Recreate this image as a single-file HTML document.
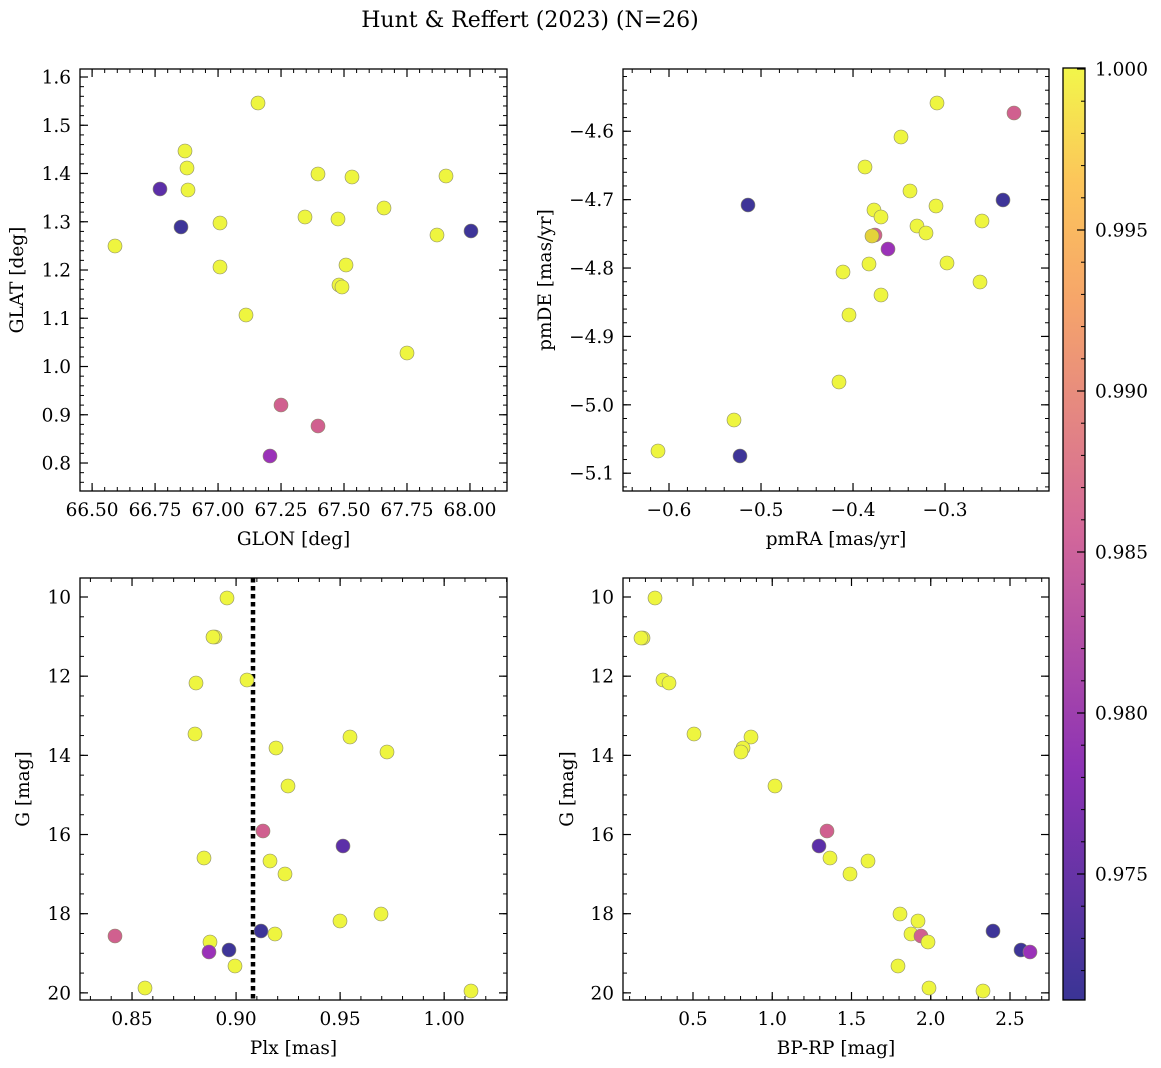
<!DOCTYPE html>
<html><head><meta charset="utf-8"><style>
html,body{margin:0;padding:0;background:#fff;}
svg{display:block;font-family:"DejaVu Serif","Liberation Serif",serif;}
</style></head><body>
<svg id="s" width="1161" height="1068" xmlns="http://www.w3.org/2000/svg">
<defs><linearGradient id="cb" x1="0" y1="1" x2="0" y2="0">
<stop offset="0" stop-color="#3a3495"/>
<stop offset="0.25" stop-color="#8d33b4"/>
<stop offset="0.5" stop-color="#d2679a"/>
<stop offset="0.75" stop-color="#f6a56a"/>
<stop offset="0.88" stop-color="#fcc65a"/>
<stop offset="1" stop-color="#f2f64a"/>
</linearGradient></defs>
<text x="530" y="27" font-size="22" text-anchor="middle">Hunt &amp; Reffert (2023) (N=26)</text>
</svg>
<script>
const S=document.getElementById('s');const NS='http://www.w3.org/2000/svg';
function el(t,a,txt){const e=document.createElementNS(NS,t);for(const k in a)e.setAttribute(k,a[k]);if(txt!==undefined)e.textContent=txt;S.appendChild(e);return e;}
const C={Y:'#eef53f',P:'#d0608f',B:'#3e3598',U:'#5c2fa8',M:'#9a32b8',O:'#e4d23a'};
const FS=18.5, LS=18.5;
function fmt(v,d){let s=v.toFixed(d);if(v<-1e-9)s='\u2212'+s.slice(1);return s;}
function panel(p){
 const {x0,x1,y0,y1,xl,xh,yl,yh}=p;
 const X=v=>x0+(v-xl)/(xh-xl)*(x1-x0), Y=v=>y1-(v-yl)/(yh-yl)*(y1-y0);
 function ticks(lo,hi,step,f){const n0=Math.ceil(lo/step-1e-6),n1=Math.floor(hi/step+1e-6);for(let i=n0;i<=n1;i++)f(i*step);}
 ticks(Math.min(xl,xh),Math.max(xl,xh),p.xmin,v=>{const x=X(v);el('line',{x1:x,x2:x,y1:y1,y2:y1-4,stroke:'#000','stroke-width':1});el('line',{x1:x,x2:x,y1:y0,y2:y0+4,stroke:'#000','stroke-width':1});});
 ticks(Math.min(yl,yh),Math.max(yl,yh),p.ymin,v=>{const y=Y(v);el('line',{x1:x0,x2:x0+4,y1:y,y2:y,stroke:'#000','stroke-width':1});el('line',{x1:x1,x2:x1-4,y1:y,y2:y,stroke:'#000','stroke-width':1});});
 p.xt.forEach(v=>{const x=X(v);el('line',{x1:x,x2:x,y1:y1,y2:y1-8,stroke:'#000','stroke-width':1.2});el('line',{x1:x,x2:x,y1:y0,y2:y0+8,stroke:'#000','stroke-width':1.2});el('text',{x:x,y:y1+25,'font-size':FS,'text-anchor':'middle'},fmt(v,p.xd));});
 p.yt.forEach(v=>{const y=Y(v);el('line',{x1:x0,x2:x0+8,y1:y,y2:y,stroke:'#000','stroke-width':1.2});el('line',{x1:x1,x2:x1-8,y1:y,y2:y,stroke:'#000','stroke-width':1.2});el('text',{x:x0-9,y:y+6.5,'font-size':FS,'text-anchor':'end'},fmt(v,p.yd));});
 if(p.extra)p.extra();
 p.pts.forEach(q=>el('circle',{cx:q[0],cy:q[1],r:7,fill:C[q[2]],stroke:'#8a8a6a','stroke-width':0.6}));
 el('rect',{x:x0,y:y0,width:x1-x0,height:y1-y0,fill:'none',stroke:'#000','stroke-width':1.3});
 el('text',{x:(x0+x1)/2,y:y1+54,'font-size':LS,'text-anchor':'middle'},p.xlab);
 const lx=p.lx;el('text',{x:lx,y:(y0+y1)/2,'font-size':LS,'text-anchor':'middle',transform:`rotate(-90 ${lx} ${(y0+y1)/2})`},p.ylab);
}
const r=(a,b,s)=>{const o=[];for(let v=a;v<=b+1e-9;v+=s)o.push(+v.toFixed(4));return o;};
panel({x0:80,x1:507,y0:69,y1:491,xl:66.452,xh:68.147,yl:0.742,yh:1.6166,xt:r(66.5,68,0.25),xd:2,yt:r(0.8,1.6,0.1),yd:1,xmin:0.05,ymin:0.02,xlab:'GLON [deg]',ylab:'GLAT [deg]',lx:23,
pts:[[258,103,'Y'],[185,151,'Y'],[187,168,'Y'],[188,190,'Y'],[160,189,'U'],[318,174,'Y'],[352,177,'Y'],[446,176,'Y'],[181,227,'B'],[220,223,'Y'],[305,217,'Y'],[338,219,'Y'],[384,208,'Y'],[115,246,'Y'],[471,231,'B'],[220,267,'Y'],[346,265,'Y'],[339,285,'Y'],[342,287,'Y'],[437,235,'Y'],[246,315,'Y'],[407,353,'Y'],[281,405,'P'],[318,426,'P'],[270,456,'M']]});
panel({x0:623,x1:1049,y0:69,y1:491,xl:-0.65,xh:-0.187,yl:-5.126,yh:-4.509,xt:r(-0.6,-0.3,0.1),xd:1,yt:r(-5.1,-4.6,0.1),yd:1,xmin:0.02,ymin:0.02,xlab:'pmRA [mas/yr]',ylab:'pmDE [mas/yr]',lx:551,
pts:[[937,103,'Y'],[1014,113,'P'],[901,137,'Y'],[865,167,'Y'],[910,191,'Y'],[748,205,'B'],[1003,200,'B'],[936,206,'Y'],[874,210,'Y'],[881,217,'Y'],[982,221,'Y'],[917,226,'Y'],[926,233,'Y'],[875,235,'P'],[872,236,'O'],[888,249,'M'],[869,264,'Y'],[947,263,'Y'],[843,272,'Y'],[980,282,'Y'],[881,295,'Y'],[849,315,'Y'],[839,382,'Y'],[734,420,'Y'],[658,451,'Y'],[740,456,'B']]});
panel({x0:80,x1:507,y0:578,y1:1000,xl:0.825,xh:1.0302,yl:20.18,yh:9.52,xt:r(0.85,1.0,0.05),xd:2,yt:r(10,20,2),yd:0,xmin:0.01,ymin:0.5,xlab:'Plx [mas]',ylab:'G [mag]',lx:29,
extra:()=>el('line',{x1:253,x2:253,y1:578,y2:1000,stroke:'#000','stroke-width':4.5,'stroke-dasharray':'4.5 3.5'}),
pts:[[227,598,'Y'],[215,637,'Y'],[213,637,'Y'],[196,683,'Y'],[247,680,'Y'],[195,734,'Y'],[276,748,'Y'],[350,737,'Y'],[387,752,'Y'],[288,786,'Y'],[263,831,'P'],[343,846,'U'],[204,858,'Y'],[270,861,'Y'],[285,874,'Y'],[381,914,'Y'],[340,921,'Y'],[115,936,'P'],[210,942,'Y'],[229,950,'B'],[209,952,'M'],[261,931,'B'],[275,934,'Y'],[235,966,'Y'],[145,988,'Y'],[471,991,'Y']]});
panel({x0:623,x1:1049,y0:578,y1:1000,xl:0.0584,xh:2.746,yl:20.18,yh:9.52,xt:r(0.5,2.5,0.5),xd:1,yt:r(10,20,2),yd:0,xmin:0.1,ymin:0.5,xlab:'BP-RP [mag]',ylab:'G [mag]',lx:573,
pts:[[655,598,'Y'],[643,638,'Y'],[641,638,'Y'],[663,680,'Y'],[669,683,'Y'],[694,734,'Y'],[751,737,'Y'],[743,748,'Y'],[741,752,'Y'],[775,786,'Y'],[827,831,'P'],[819,846,'U'],[830,858,'Y'],[868,861,'Y'],[850,874,'Y'],[900,914,'Y'],[918,921,'Y'],[993,931,'B'],[911,934,'Y'],[921,936,'P'],[928,942,'Y'],[1021,950,'B'],[1030,952,'M'],[898,966,'Y'],[929,988,'Y'],[983,991,'Y']]});
el('rect',{x:1063,y:68,width:22,height:932,fill:'url(#cb)',stroke:'#000','stroke-width':1.3});
const CY=v=>69+(1-v)*32200;
for(let v=0.972;v<=1.0001;v+=0.001){const y=CY(v);el('line',{x1:1085,x2:1081,y1:y,y2:y,stroke:'#000','stroke-width':1});}
[1.0,0.995,0.99,0.985,0.98,0.975].forEach(v=>{const y=CY(v);el('line',{x1:1085,x2:1077,y1:y,y2:y,stroke:'#000','stroke-width':1.2});el('text',{x:1095,y:y+6.5,'font-size':FS},v.toFixed(3));});
</script>
</body></html>
